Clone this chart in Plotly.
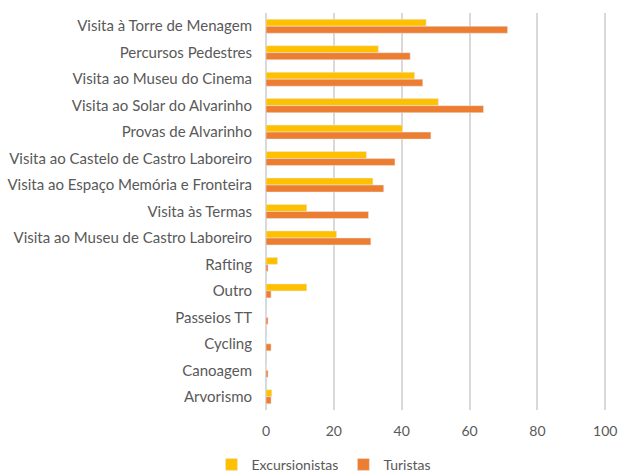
import plotly.graph_objects as go

categories = [
    "Visita à Torre de Menagem",
    "Percursos Pedestres",
    "Visita ao Museu do Cinema",
    "Visita ao Solar do Alvarinho",
    "Provas de Alvarinho",
    "Visita ao Castelo de Castro Laboreiro",
    "Visita ao Espaço Memória e Fronteira",
    "Visita às Termas",
    "Visita ao Museu de Castro Laboreiro",
    "Rafting",
    "Outro",
    "Passeios TT",
    "Cycling",
    "Canoagem",
    "Arvorismo",
]
excursionistas = [47.2, 33.1, 43.8, 50.8, 40.2, 29.6, 31.5, 12.0, 20.8, 3.4, 12.0, 0, 0, 0, 1.7]
turistas = [71.2, 42.5, 46.2, 64.1, 48.6, 38.0, 34.7, 30.2, 30.9, 0.6, 1.5, 0.6, 1.5, 0.6, 1.5]
x_ticks = [0, 20, 40, 60, 80, 100]

fig = go.Figure()
fig.add_trace(go.Bar(y=categories, x=excursionistas, orientation="h",
                     name="Excursionistas", marker_color="#FFC000"))
fig.add_trace(go.Bar(y=categories, x=turistas, orientation="h",
                     name="Turistas", marker_color="#ED7D31"))

font_family = "Lato, 'Open Sans', sans-serif"
fig.update_layout(
    width=619, height=472,
    margin=dict(l=266, r=12, t=13, b=62, autoexpand=False),
    paper_bgcolor="white", plot_bgcolor="white",
    barmode="group", bargap=0.47, bargroupgap=0,
    font=dict(family=font_family, size=15, color="#595959"),
    showlegend=True,
    legend=dict(orientation="h", x=0.17, xanchor="center", y=-0.138, yanchor="middle",
                font=dict(size=14, color="#595959"), traceorder="normal",
                itemwidth=30, tracegroupgap=0),
    xaxis=dict(range=[0, 100.5], tickvals=x_ticks, showgrid=True, gridcolor="#D9D9D9",
               gridwidth=1.5, zeroline=True, zerolinecolor="#D9D9D9", zerolinewidth=1.5,
               showline=False, ticks="", automargin=False, ticklabelstandoff=11,
               tickfont=dict(size=14, color="#595959")),
    yaxis=dict(autorange="reversed", showgrid=False, showline=False, ticks="",
               automargin=False, ticklabelstandoff=13,
               tickfont=dict(size=15, color="#595959")),
)
fig.write_html(
    "out.html",
    config={"displayModeBar": False},
    post_script="document.body.style.margin='0';document.body.style.overflow='hidden';",
)
